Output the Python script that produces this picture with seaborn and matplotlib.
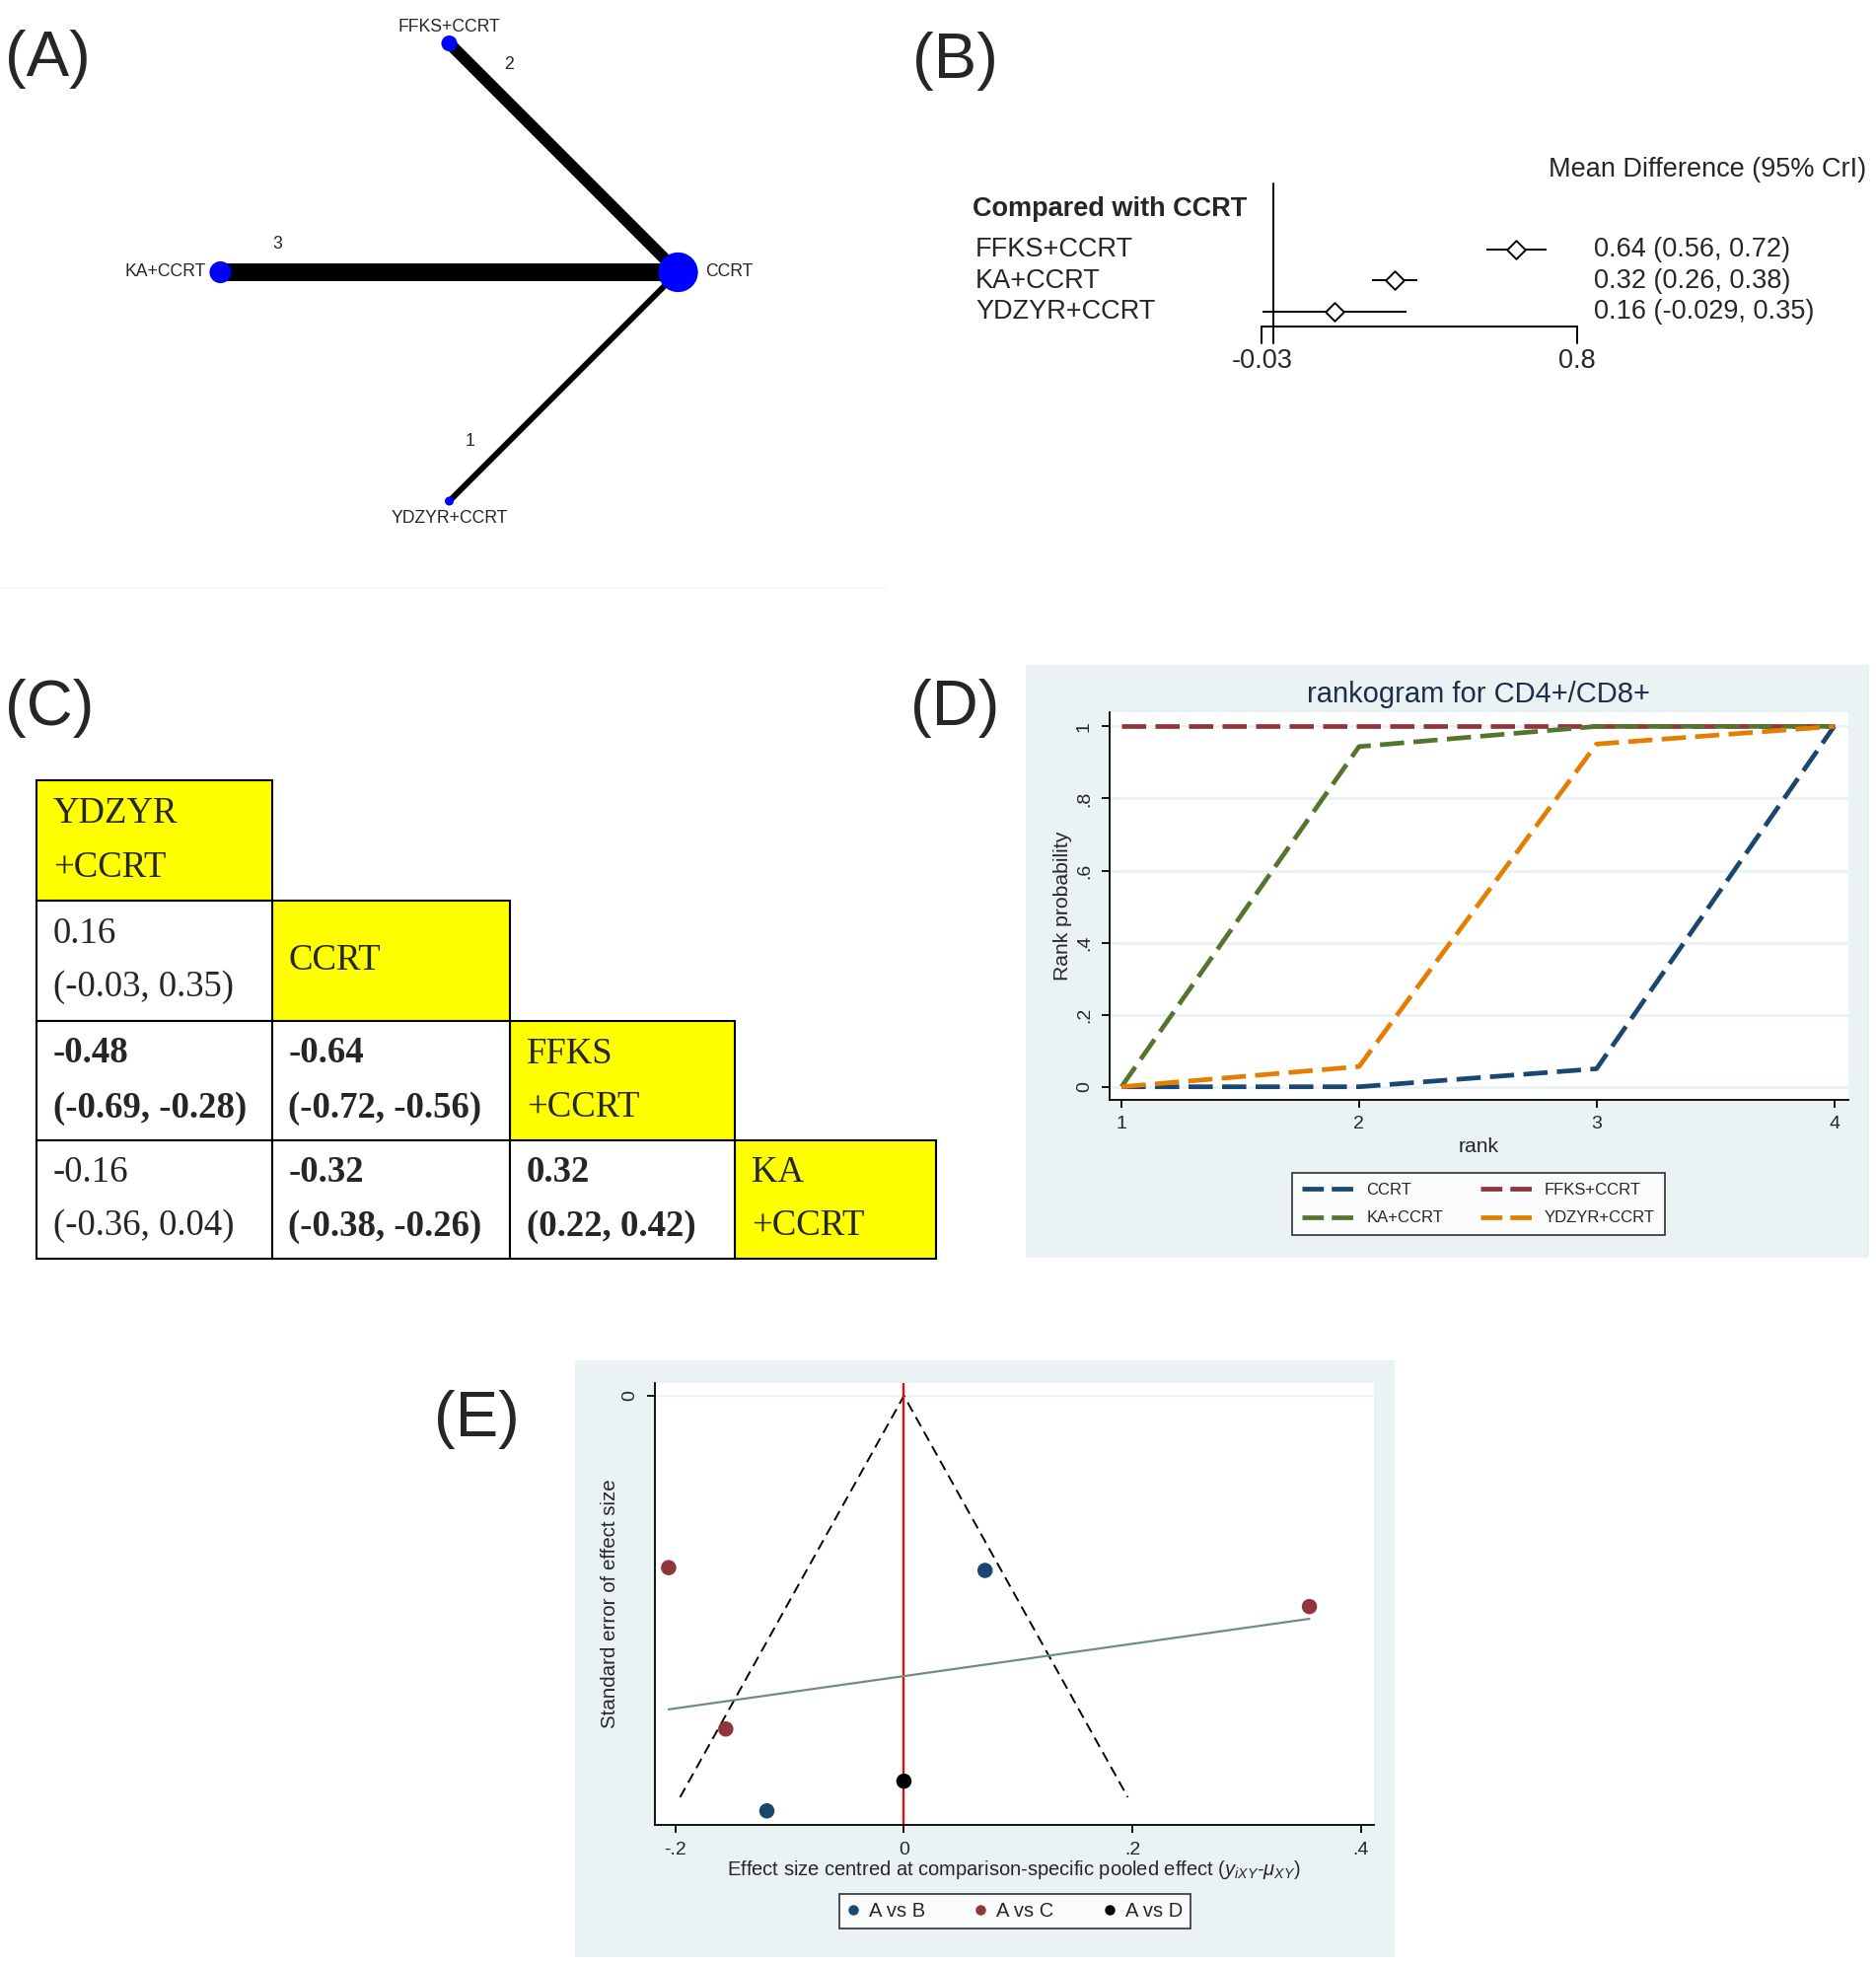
#!/usr/bin/env python3
"""
Five-panel network meta-analysis figure (CD4+/CD8+):
network plot, forest plot, league table, rankogram, comparison-adjusted funnel plot.
"""
import matplotlib
matplotlib.use("Agg")
import matplotlib.pyplot as plt
from matplotlib.lines import Line2D
from matplotlib.patches import Rectangle
import numpy as np
import pandas as pd
import seaborn as sns

# === Configuration ===
sns.set_theme(style="white")
plt.rcParams.update({
    "font.family": ["Liberation Sans", "DejaVu Sans"],
    "mathtext.fontset": "custom",
    "mathtext.rm": "Liberation Sans",
    "mathtext.it": "Liberation Sans:italic",
    "axes.linewidth": 1.3,
})

W, H = 1902, 1992
STATA_BG = "#EAF2F3"
SERIF = ["Liberation Serif", "DejaVu Serif"]

# === Data ===
# (A) network
net_nodes = ["CCRT", "FFKS+CCRT", "KA+CCRT", "YDZYR+CCRT"]
net_node_patients = [420, 67, 127, 21]          # estimated from node areas
net_edges_to = ["FFKS+CCRT", "KA+CCRT", "YDZYR+CCRT"]  # all versus CCRT
net_edge_studies = [2, 3, 1]

# (B) forest plot, compared with CCRT
forest_labels = ["FFKS+CCRT", "KA+CCRT", "YDZYR+CCRT"]
forest_md = [0.64, 0.32, 0.16]
forest_lo = [0.56, 0.26, -0.029]
forest_hi = [0.72, 0.38, 0.35]
forest_ticks = [-0.03, 0.8]

# (C) league table
league_heads = ["YDZYR\n+CCRT", "CCRT", "FFKS\n+CCRT", "KA\n+CCRT"]
league_row = [1, 2, 2, 3, 3, 3]
league_col = [0, 0, 1, 0, 1, 2]
league_md = [0.16, -0.48, -0.64, -0.16, -0.32, 0.32]
league_lo = [-0.03, -0.69, -0.72, -0.36, -0.38, 0.22]
league_hi = [0.35, -0.28, -0.56, 0.04, -0.26, 0.42]

# (D) rankogram (cumulative rank probabilities)
ranks = [1, 2, 3, 4]
rank_treatments = ["CCRT", "FFKS+CCRT", "KA+CCRT", "YDZYR+CCRT"]
rank_ccrt = [0.0, 0.0, 0.05, 1.0]
rank_ffks = [1.0, 1.0, 1.0, 1.0]
rank_ka = [0.0, 0.944, 1.0, 1.0]
rank_ydzyr = [0.0, 0.056, 0.951, 1.0]
rank_colors = ["#1A476F", "#90353B", "#55752F", "#E37E00"]

# (E) comparison-adjusted funnel plot
funnel_comparison = ["A vs C", "A vs B", "A vs C", "A vs C", "A vs D", "A vs B"]
funnel_effect = [-0.206, 0.071, 0.355, -0.156, 0.0, -0.120]
funnel_se = [0.0428, 0.0435, 0.0525, 0.083, 0.096, 0.1034]
funnel_se_max = 0.1
funnel_groups = ["A vs B", "A vs C", "A vs D"]
funnel_colors = ["#1A476F", "#90353B", "#000000"]

fig = plt.figure(figsize=(W / 100, H / 100), dpi=100)
fig.patch.set_facecolor("white")


def px_axes(x0, y0, x1, y1):
    return fig.add_axes([x0 / W, 1 - y1 / H, (x1 - x0) / W, (y1 - y0) / H])


def fx(px):
    return px / W


def fy(py):
    return 1 - py / H


def bg_rect(x0, y0, x1, y1):
    fig.add_artist(Rectangle((fx(x0), fy(y1)), (x1 - x0) / W, (y1 - y0) / H,
                             transform=fig.transFigure, facecolor=STATA_BG,
                             edgecolor="none", zorder=-5))


for lab, (px, py) in zip(["(A)", "(B)", "(C)", "(D)", "(E)"],
                         [(48, 60), (968, 62), (50, 718), (968, 718), (483, 1439)]):
    fig.text(fx(px), fy(py), lab, fontsize=47, ha="center", va="center")

# === (A) Network plot ===
R = 232.0
ax_a = px_axes(0, 0, 900, 600)
ax_a.set_xlim(-455.5 / R, (900 - 455.5) / R)
ax_a.set_ylim((276 - 600) / R, 276 / R)
ax_a.axis("off")

angles = {"CCRT": 0, "FFKS+CCRT": 90, "KA+CCRT": 180, "YDZYR+CCRT": 270}
pos = {n: (np.cos(np.radians(a)), np.sin(np.radians(a))) for n, a in angles.items()}

pc = np.array(pos["CCRT"])
for tgt, n in zip(net_edges_to, net_edge_studies):
    po = np.array(pos[tgt])
    ax_a.plot([po[0], pc[0]], [po[1], pc[1]], color="black", lw=4.3 * n,
              solid_capstyle="butt", zorder=1)
    d = (pc - po) / np.linalg.norm(pc - po)
    normal = np.array([-d[1], d[0]])
    lp = po + d * 58 / R + normal * 28 / R
    ax_a.text(lp[0], lp[1], str(n), fontsize=12.7, ha="center", va="center")

ax_a.scatter([pos[n][0] for n in net_nodes], [pos[n][1] for n in net_nodes],
             s=np.array(net_node_patients) * 2.0, color="#0000FF", zorder=3,
             linewidths=0)

label_offsets = {"CCRT": ((28, 0), "left"), "KA+CCRT": ((-15, 0), "right"),
                 "FFKS+CCRT": ((0, 17), "center"), "YDZYR+CCRT": ((0, -18), "center")}
for n in net_nodes:
    (ox, oy), ha = label_offsets[n]
    ax_a.annotate(n, pos[n], xytext=(ox * 0.72, oy * 0.72), textcoords="offset points",
                  fontsize=12.7, ha=ha, va="center")

fig.add_artist(Line2D([0, fx(897)], [fy(596), fy(596)], color="#F6F6F6", lw=1.5))

# === (B) Forest plot ===
X0, K = 1290.9, 385.2
Y0, S = 253.0, 31.5
ax_b = px_axes(926, 150, 1902, 400)
B_XLIM = ((926 - X0) / K, (1902 - X0) / K)
B_YLIM = ((400 - Y0) / S, (150 - Y0) / S)
rows = np.arange(len(forest_labels))
FS_B = 19.5


def by(py):
    return (py - Y0) / S


ax_b.plot([0, 0], [by(186), by(348)], color="black", lw=1.4)
ax_b.plot([forest_ticks[0], forest_ticks[-1]], [by(331), by(331)], color="black", lw=1.4)
for t in forest_ticks:
    ax_b.plot([t, t], [by(331), by(348)], color="black", lw=1.4)
    ax_b.text(t, by(366), f"{t:g}", fontsize=FS_B, ha="center", va="center")
ax_b.hlines(rows, forest_lo, forest_hi, color="black", lw=1.4)
sns.scatterplot(x=forest_md, y=rows, marker="D", s=90, color="white",
                edgecolor="black", linewidth=1.4, ax=ax_b, zorder=3)
ax_b.set_xlim(*B_XLIM)
ax_b.set_ylim(*B_YLIM)
ax_b.axis("off")

ax_b.text((986 - X0) / K, by(212), "Compared with CCRT", fontsize=FS_B,
          fontweight="bold", ha="left", va="center")
ax_b.text((1570 - X0) / K, by(172), "Mean Difference (95% CrI)", fontsize=FS_B,
          ha="left", va="center")
for i, (lab, m, lo, hi) in enumerate(zip(forest_labels, forest_md, forest_lo, forest_hi)):
    ax_b.text((989 - X0) / K, i, lab, fontsize=FS_B, ha="left", va="center")
    ax_b.text((1616 - X0) / K, i, f"{m:.2g} ({lo:.2g}, {hi:.2g})", fontsize=FS_B,
              ha="left", va="center")

# === (C) League table ===
ax_c = px_axes(0, 680, 960, 1300)
ax_c.set_xlim(0, 960)
ax_c.set_ylim(1300, 680)
ax_c.axis("off")
col_edges = [37, 275.5, 517, 745, 949]
row_edges = [791.5, 913, 1035, 1156, 1276]
FS_C = 26.5


def cell(r, c, text, face, bold=False):
    x0, x1 = col_edges[c], col_edges[c + 1]
    y0, y1 = row_edges[r], row_edges[r + 1]
    ax_c.add_patch(Rectangle((x0, y0), x1 - x0, y1 - y0, facecolor=face,
                             edgecolor="black", lw=1.5))
    ax_c.text(x0 + 17, (y0 + y1) / 2, text, fontsize=FS_C, family=SERIF,
              fontweight="bold" if bold else "normal", ha="left", va="center",
              linespacing=1.74)


for k, head in enumerate(league_heads):
    cell(k, k, head, "#FFFF00")
for r, c, m, lo, hi in zip(league_row, league_col, league_md, league_lo, league_hi):
    sig = lo > 0 or hi < 0
    cell(r, c, f"{m:.2f}\n({lo:.2f}, {hi:.2f})", "white", bold=sig)

# === (D) Rankogram ===
bg_rect(1040, 674, 1895, 1275)
ax_d = px_axes(1124.5, 722.5, 1873.5, 1114.7)
df_rank = pd.DataFrame({
    "treatment": np.repeat(rank_treatments, len(ranks)),
    "rank": ranks * len(rank_treatments),
    "prob": rank_ccrt + rank_ffks + rank_ka + rank_ydzyr,
})
palette_d = dict(zip(rank_treatments, rank_colors))
DASH = (5.2, 2.0)
LW_D = 3.4
sns.lineplot(data=df_rank, x="rank", y="prob", hue="treatment", style="treatment",
             hue_order=rank_treatments, style_order=rank_treatments,
             palette=palette_d, dashes={t: DASH for t in rank_treatments},
             linewidth=LW_D, errorbar=None, legend=False, ax=ax_d)
ax_d.set_facecolor("white")
ax_d.set_xlim(0.948, 4.058)
ax_d.set_ylim(-0.0356, 1.038)
ax_d.set_xticks(ranks)
ax_d.set_xticklabels([str(r) for r in ranks], fontsize=14)
yt = [0, 0.2, 0.4, 0.6, 0.8, 1]
ax_d.set_yticks(yt)
ax_d.set_yticklabels(["0", ".2", ".4", ".6", ".8", "1"], fontsize=14, rotation=90,
                     va="center")
ax_d.yaxis.grid(True, color=STATA_BG, lw=2)
ax_d.xaxis.grid(False)
ax_d.set_axisbelow(True)
for s in ["top", "right"]:
    ax_d.spines[s].set_visible(False)
for s in ["left", "bottom"]:
    ax_d.spines[s].set_color("black")
ax_d.tick_params(direction="out", length=6, width=1.3, color="black", pad=6,
                 left=True, bottom=True)
ax_d.set_xlabel("rank", fontsize=15.2)
ax_d.set_ylabel("Rank probability", fontsize=15.2)
ax_d.xaxis.set_label_coords(0.5, -0.123)
ax_d.xaxis.label.set_va("center")
ax_d.yaxis.set_label_coords(-0.0634, 0.5)
ax_d.yaxis.label.set_va("center")
fig.text(fx(1499), fy(703.5), "rankogram for CD4+/CD8+", fontsize=21, ha="center",
         va="center", color="#1C2E4A")

leg_order = ["CCRT", "KA+CCRT", "FFKS+CCRT", "YDZYR+CCRT"]
handles = [Line2D([], [], color=palette_d[t], lw=LW_D, linestyle=(0, (4.6, 1.7)))
           for t in leg_order]
leg_d = ax_d.legend(handles, leg_order, ncol=2, loc="center",
                    bbox_to_anchor=(fx(1499), fy(1220.7)), bbox_transform=fig.transFigure,
                    frameon=True, fancybox=False, edgecolor="black", facecolor="white",
                    fontsize=12, handlelength=3.4, handletextpad=0.5,
                    columnspacing=2.25, labelspacing=0.8, borderpad=0.6)
leg_d.get_frame().set_linewidth(1.2)

# === (E) Comparison-adjusted funnel plot ===
bg_rect(583, 1379, 1414, 1984)
ax_e = px_axes(664, 1402, 1393, 1850)
df_funnel = pd.DataFrame({"comparison": funnel_comparison, "effect": funnel_effect,
                          "se": funnel_se})
ax_e.set_facecolor("white")
ax_e.plot([-1.96 * funnel_se_max, 0, 1.96 * funnel_se_max], [funnel_se_max, 0, funnel_se_max],
          color="black", lw=1.4, linestyle=(0, (5.5, 3.2)), zorder=2)
ax_e.axvline(0, color="#FF0000", lw=1.6, zorder=2)
sns.regplot(data=df_funnel, x="effect", y="se", scatter=False, ci=None, truncate=True,
            line_kws=dict(color="#6E8E84", lw=1.6, zorder=2), ax=ax_e)
sns.scatterplot(data=df_funnel, x="effect", y="se", hue="comparison",
                hue_order=funnel_groups, palette=dict(zip(funnel_groups, funnel_colors)),
                s=125, linewidth=0, legend=False, ax=ax_e, zorder=4)
ax_e.set_xlim(-0.218, 0.4115)
ax_e.set_ylim(0.1069, -0.0032)
ax_e.set_xticks([-0.2, 0, 0.2, 0.4])
ax_e.set_xticklabels(["-.2", "0", ".2", ".4"], fontsize=14)
ax_e.set_yticks([0])
ax_e.set_yticklabels(["0"], fontsize=14, rotation=90, va="center")
ax_e.yaxis.grid(True, color=STATA_BG, lw=1.5)
ax_e.xaxis.grid(False)
ax_e.set_axisbelow(True)
for s in ["top", "right"]:
    ax_e.spines[s].set_visible(False)
for s in ["left", "bottom"]:
    ax_e.spines[s].set_color("black")
ax_e.tick_params(direction="out", length=6, width=1.3, color="black", pad=6,
                 left=True, bottom=True)
ax_e.set_xlabel("Effect size centred at comparison-specific pooled effect ("
                r"$y_{iXY}$-$\mu_{XY}$)", fontsize=14.5)
ax_e.set_ylabel("Standard error of effect size", fontsize=14.8)
ax_e.xaxis.set_label_coords(0.4993, -0.102)
ax_e.xaxis.label.set_va("center")
ax_e.yaxis.set_label_coords(-0.063, 0.5)
ax_e.yaxis.label.set_va("center")

handles_e = [Line2D([], [], marker="o", ls="", color=c, markersize=6.5) for c in funnel_colors]
leg_e = ax_e.legend(handles_e, funnel_groups, ncol=3, loc="center",
                    bbox_to_anchor=(fx(1029), fy(1937.3)), bbox_transform=fig.transFigure,
                    frameon=True, fancybox=False, edgecolor="black", facecolor="white",
                    fontsize=14.5, handlelength=0.6, handletextpad=0.5,
                    columnspacing=2.5, borderpad=0.4)
leg_e.get_frame().set_linewidth(1.2)

fig.savefig("out.png", dpi=100, facecolor="white")
